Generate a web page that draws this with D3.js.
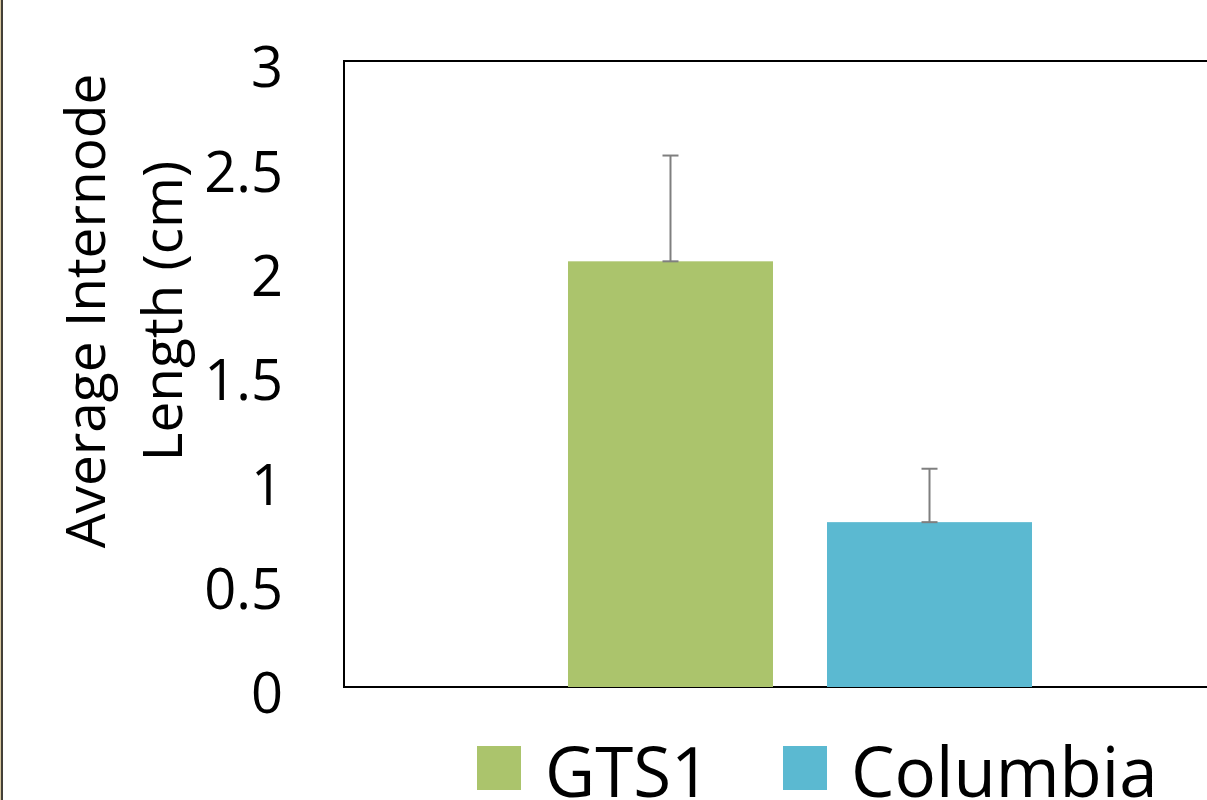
<!DOCTYPE html>
<html>
<head>
<meta charset="utf-8">
<script src="https://cdn.jsdelivr.net/npm/d3@7"></script>
<style>
  html, body { margin: 0; padding: 0; background: #fff; overflow: hidden; }
  svg { display: block; }
</style>
</head>
<body>
<svg id="chart" width="1207" height="800"></svg>
<script>
// ---- data ----
const series = ["GTS1", "Columbia"];
const values = [2.04, 0.79];
const errors = [0.507, 0.256];
const colors = ["#abc46c", "#5bb9d1"];
const yTicks = [0, 0.5, 1, 1.5, 2, 2.5, 3];
const yTickLabels = ["0", "0.5", "1", "1.5", "2", "2.5", "3"];
const yTitleLines = ["Average Internode", "Length (cm)"];

const svg = d3.select("#chart");
const FONT = "'Open Sans', 'Noto Sans', sans-serif";

const plot = { left: 344, top: 61, right: 1256, bottom: 687 };

// outer chart border (left edge)
svg.append("line").attr("x1", 1.5).attr("x2", 1.5).attr("y1", 0).attr("y2", 800)
  .attr("stroke", "#d8c8a0").attr("stroke-width", 3);
svg.append("line").attr("x1", 2).attr("x2", 2).attr("y1", 0).attr("y2", 800)
  .attr("stroke", "#1e1e1e").attr("stroke-width", 1.6);

const y = d3.scaleLinear().domain([0, 3]).range([plot.bottom, plot.top]);
const x = d3.scaleBand().domain(series).range([plot.left, plot.right])
  .paddingInner(0.2085).paddingOuter(0.8648).align(0.5);

// plot frame
svg.append("rect")
  .attr("x", plot.left).attr("y", plot.top)
  .attr("width", plot.right - plot.left).attr("height", plot.bottom - plot.top)
  .attr("fill", "none").attr("stroke", "#000").attr("stroke-width", 2);

// y axis labels
const yAxis = d3.axisLeft(y).tickValues(yTicks)
  .tickFormat((d, i) => yTickLabels[i]).tickSize(0).tickPadding(61);
const gy = svg.append("g").attr("transform", `translate(${plot.left},0)`).call(yAxis);
gy.select(".domain").remove();
gy.selectAll("text").attr("font-family", FONT).attr("font-size", 56)
  .attr("fill", "#000").attr("dy", "0.46em");

// bars
svg.append("g").selectAll("rect").data(series).join("rect")
  .attr("x", d => x(d))
  .attr("width", x.bandwidth())
  .attr("y", (d, i) => y(values[i]))
  .attr("height", (d, i) => y(0) - y(values[i]))
  .attr("fill", (d, i) => colors[i]);

// error bars
const eg = svg.append("g").attr("stroke", "#7f7f7f").attr("stroke-width", 2);
series.forEach((s, i) => {
  const cx = x(s) + x.bandwidth() / 2;
  const y0 = y(values[i]), y1 = y(values[i] + errors[i]);
  eg.append("line").attr("x1", cx).attr("x2", cx).attr("y1", y0).attr("y2", y1);
  eg.append("line").attr("x1", cx - 8).attr("x2", cx + 8).attr("y1", y1).attr("y2", y1);
  eg.append("line").attr("x1", cx - 8).attr("x2", cx + 8).attr("y1", y0).attr("y2", y0);
});

// y title
const titleCenterY = 311;
const baselines = [105, 182];
yTitleLines.forEach((t, i) => {
  svg.append("text")
    .attr("transform", `translate(${baselines[i]},${titleCenterY}) rotate(-90)`)
    .attr("text-anchor", "middle")
    .attr("font-family", FONT).attr("font-size", 55).attr("fill", "#000")
    .text(t);
});

// legend
const legendX = [477, 783];
const lg = svg.append("g");
series.forEach((s, i) => {
  lg.append("rect").attr("x", legendX[i]).attr("y", 746).attr("width", 44).attr("height", 44)
    .attr("fill", colors[i]);
  lg.append("text").attr("x", legendX[i] + 68).attr("y", 797)
    .attr("font-family", FONT).attr("font-size", 69).attr("fill", "#000").text(s);
});
</script>
</body>
</html>
